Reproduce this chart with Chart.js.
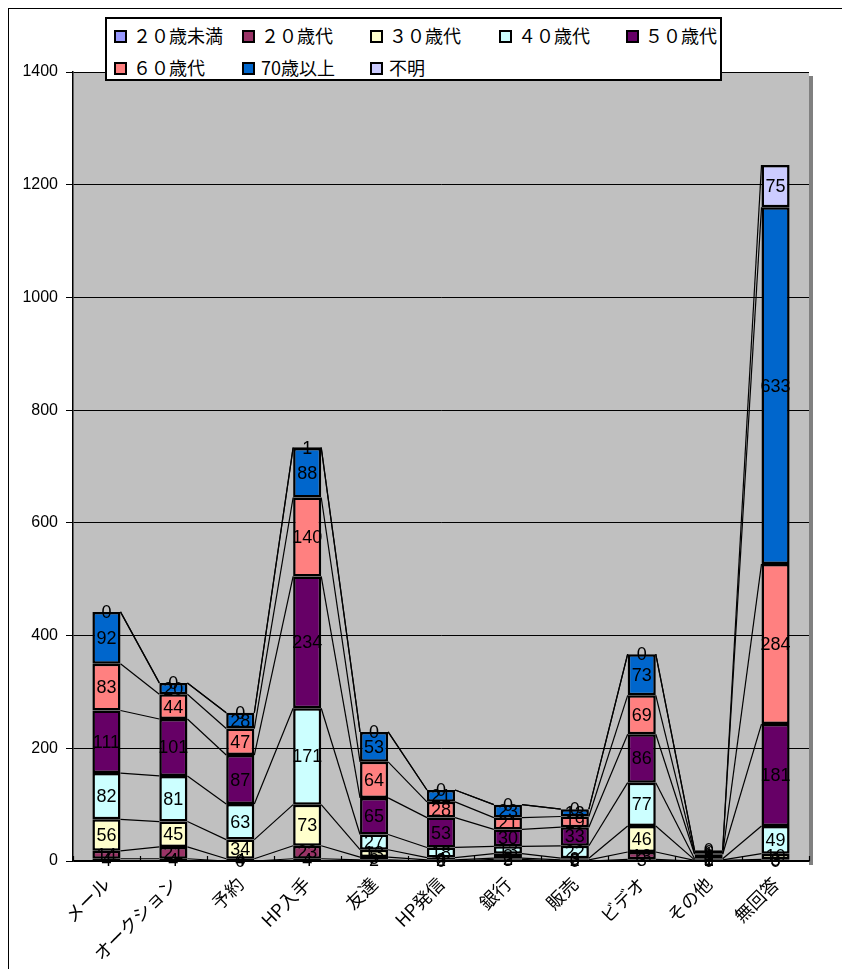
<!DOCTYPE html>
<html><head><meta charset="utf-8">
<script src="https://cdn.jsdelivr.net/npm/chart.js@4/dist/chart.umd.min.js"></script>
<style>
html,body{margin:0;padding:0;background:#fff;}
#wrap{position:relative;width:842px;height:969px;overflow:hidden;}
#frame{position:absolute;left:8px;top:8px;width:900px;height:1000px;border-left:1px solid #000;border-top:1px solid #000;pointer-events:none;}
canvas{position:absolute;left:0;top:0;}
#legend{position:absolute;left:105px;top:17px;width:613px;height:60px;border:2px solid #000;background:#fff;font-family:'Noto Sans CJK JP','Noto Sans',sans-serif;font-size:18px;color:#000;}
.it{position:absolute;white-space:nowrap;line-height:20px;}
.sq{display:inline-block;width:9px;height:9px;border:2px solid #000;vertical-align:middle;margin-right:6px;position:relative;top:-2px;}
</style></head>
<body><div id="wrap"><canvas id="c" width="842" height="969"></canvas><div id="frame"></div><div id="legend"></div></div>
<script>
const categories = ['メール','オークション','予約','HP入手','友達','HP発信','銀行','販売','ビデオ','その他','無回答'];
const seriesNames = ['２０歳未満','２０歳代','３０歳代','４０歳代','５０歳代','６０歳代','70歳以上','不明'];
const under20 = [4,4,0,4,2,0,3,0,3,0,0];
const age20s  = [14,21,4,23,5,2,2,2,13,1,3];
const age30s  = [56,45,34,73,13,4,8,3,46,1,10];
const age40s  = [82,81,63,171,27,18,13,22,77,2,49];
const age50s  = [111,101,87,234,65,53,30,33,86,8,181];
const age60s  = [83,44,47,140,64,28,21,19,69,1,284];
const age70up = [92,20,28,88,53,21,23,13,73,6,633];
const unknown = [0,0,0,1,0,0,0,0,0,0,75];
const yTicks = [0,200,400,600,800,1000,1200,1400];
const colors = ['#9999FF','#993366','#FFFFCC','#CCFFFF','#660066','#FF8080','#0066CC','#CCCCFF'];
const seriesData = [under20,age20s,age30s,age40s,age50s,age60s,age70up,unknown];

// HTML legend
const legendPos = [[7,6],[135,6],[263,6],[392,6],[519,6],[7,38],[135,38],[263,38]];
const lg = document.getElementById('legend');
seriesNames.forEach((n,i)=>{
  const d=document.createElement('div'); d.className='it';
  d.style.left=legendPos[i][0]+'px'; d.style.top=legendPos[i][1]+'px';
  d.innerHTML='<span class="sq" style="background:'+colors[i]+'"></span>'+n;
  lg.appendChild(d);
});

const bgPlugin = {
  id:'bg',
  beforeDraw(chart){
    const {ctx, chartArea:a} = chart;
    ctx.save();
    ctx.fillStyle='#C0C0C0';
    ctx.fillRect(a.left,a.top,a.right-a.left,a.bottom-a.top);
    ctx.fillStyle='#808080';
    ctx.fillRect(a.right,a.top+4,4,a.bottom-a.top);
    ctx.restore();
  }
};
const seriesLines = {
  id:'serieslines',
  beforeDatasetsDraw(chart){
    const ctx=chart.ctx;
    ctx.save(); ctx.strokeStyle='#000'; ctx.lineWidth=1.2;
    chart.data.datasets.forEach((ds,di)=>{
      const m=chart.getDatasetMeta(di);
      for(let i=0;i<m.data.length-1;i++){
        const a=m.data[i], b=m.data[i+1];
        ctx.beginPath();
        ctx.moveTo(a.x+a.width/2, a.y);
        ctx.lineTo(b.x-b.width/2, b.y);
        ctx.stroke();
      }
    });
    const a=chart.chartArea;
    const n=categories.length, w=(a.right-a.left)/n;
    for(let i=0;i<=n;i++){
      const xx=Math.round(a.left+i*w)+0.5;
      ctx.beginPath(); ctx.moveTo(xx,a.bottom); ctx.lineTo(xx,a.bottom-5); ctx.stroke();
    }
    ctx.restore();
  }
};
const labelsPlugin = {
  id:'vals',
  afterDatasetsDraw(chart){
    const ctx=chart.ctx;
    ctx.save();
    ctx.font='18px "Liberation Sans", Arial, sans-serif';
    ctx.fillStyle='#000'; ctx.textAlign='center'; ctx.textBaseline='middle';
    chart.data.datasets.forEach((ds,di)=>{
      const m=chart.getDatasetMeta(di);
      m.data.forEach((el,i)=>{
        const yc=(el.y+el.base)/2;
        ctx.fillText(String(ds.data[i]), el.x, yc+1);
      });
    });
    ctx.restore();
  }
};

new Chart(document.getElementById('c'),{
  type:'bar',
  data:{
    labels:categories,
    datasets:seriesData.map((d,i)=>({
      label:seriesNames[i], data:d, backgroundColor:colors[i],
      borderColor:'#000', borderWidth:2.5, borderSkipped:false,
      categoryPercentage:1, barPercentage:0.42
    }))
  },
  options:{
    responsive:false, animation:false,
    layout:{padding:{top:72,right:33,left:0,bottom:0}},
    plugins:{legend:{display:false},tooltip:{enabled:false}},
    scales:{
      x:{stacked:true,
        grid:{display:false,drawTicks:false},
        border:{display:true,color:'#000',width:1.5},
        ticks:{autoSkip:false,maxRotation:45,minRotation:45,padding:12,color:'#000',
          font:{family:'"Noto Sans CJK JP", sans-serif',size:18}},
        afterFit(s){ s.height=108; }
      },
      y:{stacked:true,min:0,max:1400,
        afterBuildTicks(s){ s.ticks=yTicks.map(v=>({value:v})); },
        grid:{color:'#000',lineWidth:1,tickLength:7,drawTicks:true},
        border:{display:true,color:'#000',width:1.5},
        ticks:{padding:8,color:'#000',callback:(v)=>String(v),
          font:{family:'"Liberation Sans", Arial, sans-serif',size:16}},
        afterFit(s){ s.width=73; }
      }
    }
  },
  plugins:[bgPlugin,seriesLines,labelsPlugin]
});
</script>
</body></html>
